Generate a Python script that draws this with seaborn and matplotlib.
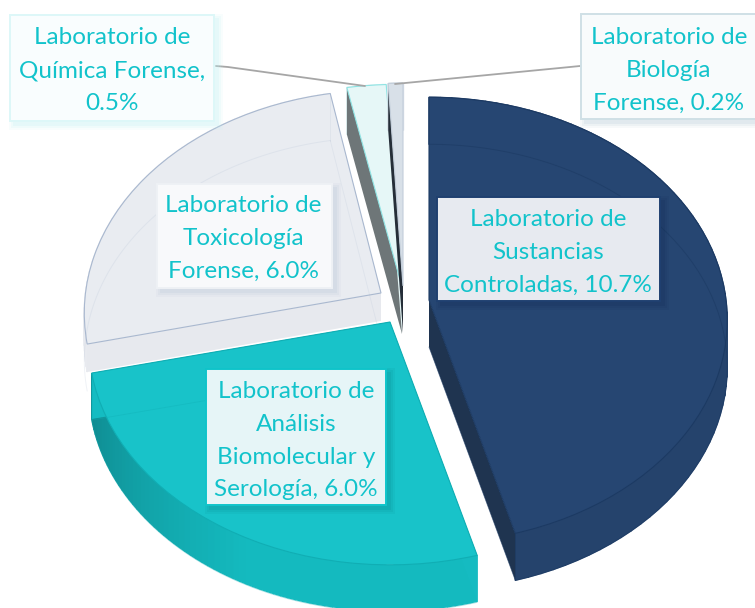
import numpy as np
import seaborn as sns
import matplotlib.pyplot as plt
from matplotlib.colors import to_rgb
from matplotlib.patches import Rectangle
from matplotlib.transforms import Transform

categories = ["Laboratorio de\nSustancias\nControladas",
              "Laboratorio de\nAnálisis\nBiomolecular y\nSerología",
              "Laboratorio de\nToxicología\nForense",
              "Laboratorio de\nQuímica Forense",
              "Laboratorio de\nBiología\nForense"]
values = [10.7, 6.0, 6.0, 0.5, 0.2]
separators = [" ", " ", " ", "\n", " "]

# look of the slices
RX, RY, K, DEPTH = 300, 221, 0.09, 47
apex = [(429, 300), (390, 322), (381, 293), (402, 287), (403, 286)]
rx_scale = [0.99, 1, 0.985, 1.07, 1]
wall_depth = [47, 46, 28, 47, 47]
top_colors = ["#264672", "#18C3C9", "#E9ECF1", "#E6F7F7", "#D8E0E8"]
wall_colors = ["#25436C", "#14BABF", "#E8EAEF", "#E6F7F7", "#D8E0E8"]
dark_walls = [None, "#0F8A90", None, None, None]
edge_colors = ["#1C3A63", "#10AEB4", "#A9B8CF", "#8FE3E3", "#C3CEDA"]
ghost_alpha = [0.6, 0.35, 0.18, 0.0, 0.0]
order = [2, 3, 4, 1, 0]
cut1_colors = ["#1D3554", "#15BBC1", "#E7E9EE", "#6E7678", "#252E38"]
cut2_colors = ["#1F3450", "#14BCC2", "#E7E9EE", "#E6F7F7", "#D8E0E8"]

# label boxes: left, top, right, bottom, fill, border, shadow, text x, first line y, line step
boxes = [(437, 197, 660, 301, "#E7EAF0", "#1F4070", "#16305A", 548, 220, 32.6),
         (206, 369, 386, 505, "#E6F5F7", "#10C4CA", "#0C8F95", 296, 392, 32.6),
         (157, 184, 332, 288, "#F8F9FB", "#EEF1F5", "#B9C4D6", 243, 206, 32.6),
         (10, 15, 214, 121, "#F9FDFE", "#DDF7F8", "#BFEFF1", 112, 38, 32.6),
         (581, 14, 756, 119, "#F8FBFC", "#CFE0E6", "#B5C9D6", 669, 38, 32.6)]
TEXT_COLOR = "#12C3CB"


class Tilt(Transform):
    input_dims = 2
    output_dims = 2
    has_inverse = False
    is_separable = False

    def __init__(self, cx, cy, sx=1):
        super().__init__()
        self.cx = cx
        self.cy = cy
        self.sx = sx

    def transform_non_affine(self, xy):
        xy = np.asarray(xy, dtype=float)
        w = 1 + K * xy[:, 1]
        return np.column_stack([self.cx + self.sx * RX * xy[:, 0] / w, self.cy - RY * xy[:, 1] / w])


def rim(t, a, b, n=60, shift=0):
    th = np.radians(np.linspace(a, b, n))
    pts = t.transform_non_affine(np.column_stack([np.cos(th), np.sin(th)]))
    pts[:, 1] += shift
    return pts


sns.set_theme(style="white")
plt.rcParams['font.family'] = ['Lato', 'DejaVu Sans']

fig = plt.figure(figsize=(7.55, 6.08), dpi=100)
ax = fig.add_axes([0, 0, 1, 1])

wedges, _ = ax.pie(values, startangle=90, counterclock=False, colors=sns.color_palette(top_colors))

for rank, i in enumerate(order):
    w = wedges[i]
    t = Tilt(apex[i][0], apex[i][1], rx_scale[i])
    z = 2 + rank * 2
    a, b = w.theta1, w.theta2
    d = wall_depth[i]
    w.set_transform(t + ax.transData)
    w.set_zorder(z + 1)
    w.set_edgecolor(edge_colors[i])
    w.set_linewidth(0.8)

    # outer wall, in small pieces so the teal one can shade towards the left
    arc = rim(t, a, b, 70)
    low = rim(t, a, b, 70, d)
    for j in range(len(arc) - 1):
        color = wall_colors[i]
        if dark_walls[i]:
            f = np.clip(1 - j / 69 / 0.55, 0, 1)
            c0 = np.array(to_rgb(wall_colors[i]))
            c1 = np.array(to_rgb(dark_walls[i]))
            color = c0 + (c1 - c0) * f
        quad = np.vstack([arc[j:j + 2], low[j:j + 2][::-1]])
        ax.fill(quad[:, 0], quad[:, 1], color=color, lw=1.0, zorder=z)

    # flat cuts from the centre to the rim
    cx, cy = apex[i]
    for angle, color in [(b, cut1_colors[i]), (a, cut2_colors[i])]:
        p = rim(t, angle, angle, 1)[0]
        ax.fill([cx, p[0], p[0], cx], [cy, p[1], p[1] + d, cy + d], color=color, lw=0, zorder=z)

    # faint lines of the lower face seen through the top
    ga = ghost_alpha[i]
    if ga > 0:
        ghost = rim(t, a, b, 70, DEPTH)
        p = rim(t, a, a, 1)[0]
        ax.plot(ghost[:, 0], ghost[:, 1], color=edge_colors[i], lw=0.7, alpha=ga, zorder=z + 2)
        ax.plot([cx, p[0]], [cy + DEPTH, p[1] + DEPTH], color=edge_colors[i], lw=0.6, alpha=ga, zorder=z + 2)
        ax.plot([p[0], p[0]], [p[1], p[1] + DEPTH], color=edge_colors[i], lw=0.6, alpha=ga, zorder=z + 2)

# leader lines
ax.plot([216, 228, 365], [66, 67, 86], color="#A6A6A6", lw=1.3, zorder=15)
ax.plot([580, 570, 395], [66, 67, 84], color="#A6A6A6", lw=1.3, zorder=15)

for i in range(len(values)):
    left, top, right, bottom, face, border, shadow, tx, ty, step = boxes[i]
    for grow, alpha in [(5, 0.10), (3, 0.14), (1, 0.2)]:
        ax.add_patch(Rectangle((left + 4 - grow, top + 4 - grow), right - left + 2 * grow, bottom - top + 2 * grow,
                               facecolor=shadow, edgecolor="none", alpha=alpha, zorder=20))
    ax.add_patch(Rectangle((left, top), right - left, bottom - top, facecolor=face, edgecolor=border, lw=1.4, zorder=21))
    label = f"{categories[i]},{separators[i]}{values[i]:.1f}%"
    for n, line in enumerate(label.split("\n")):
        ax.text(tx, ty + n * step, line, color=TEXT_COLOR, fontsize=17.5, ha="center", va="center", zorder=22)

ax.set_xlim(0, 755)
ax.set_ylim(608, 0)
ax.set_aspect("auto")
ax.axis("off")

fig.savefig("out.png", dpi=100)
